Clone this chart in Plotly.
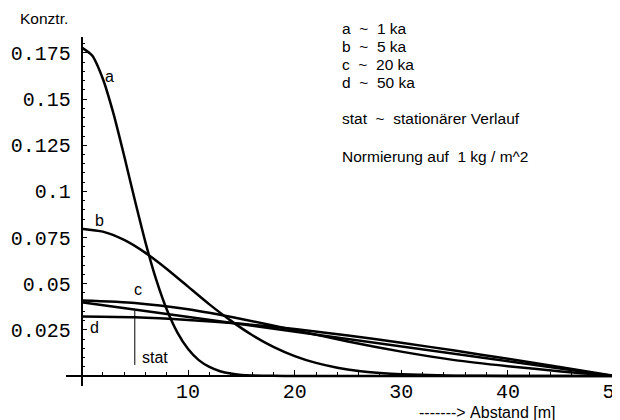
import plotly.graph_objects as go

# ---- data ----
x_a = [0, 1, 2, 3, 4, 5, 6, 7, 8, 9, 10, 11, 12, 13, 14, 15, 16, 18, 20, 25, 30, 35, 40, 45, 50]
y_a = [0.178, 0.1736, 0.161, 0.1421, 0.1193, 0.0953, 0.0724, 0.0523, 0.0360, 0.0235, 0.0146,
       0.0086, 0.0049, 0.0026, 0.0013, 0.0006, 0.0003, 0.0001, 0.0, 0.0, 0.0, 0.0, 0.0, 0.0, 0.0]

x_b = [0, 2, 4, 6, 8, 10, 12, 14, 16, 18, 20, 22, 24, 26, 28, 30, 35, 40, 45, 50]
y_b = [0.0798, 0.0782, 0.0737, 0.0667, 0.0580, 0.0484, 0.0388, 0.0300, 0.0222, 0.0158,
       0.0108, 0.0071, 0.0045, 0.0027, 0.0016, 0.0009, 0.0002, 0.0, 0.0, 0.0]

x_c = [0, 5, 10, 15, 20, 25, 30, 35, 40, 45, 50]
y_c = [0.0409, 0.0396, 0.0361, 0.0309, 0.0248, 0.0187, 0.0132, 0.0086, 0.0053, 0.0025, 0.0]

x_d = [0, 5, 10, 15, 20, 25, 30, 35, 40, 45, 50]
y_d = [0.0322, 0.0318, 0.0304, 0.0283, 0.0254, 0.0220, 0.0180, 0.0138, 0.0093, 0.0047, 0.0]

x_stat = [0, 50]
y_stat = [0.040, 0.0]

x_tickvals = [10, 20, 30, 40, 50]
x_ticktext = ["10", "20", "30", "40", "50"]
y_tickvals = [0.025, 0.05, 0.075, 0.1, 0.125, 0.15, 0.175]
y_ticktext = ["0.025", "0.05", "0.075", "0.1", "0.125", "0.15", "0.175"]

legend_lines = ["a  ~  1 ka", "b  ~  5 ka", "c  ~  20 ka", "d  ~  50 ka"]
stat_note = "stat  ~  stationärer Verlauf"
norm_note = "Normierung auf  1 kg / m^2"

# ---- figure geometry (page pixels) ----
OX, OY = 5, 6                 # where the figure's top-left lands on the page
W, H = 612, 412
PLOT_L, PLOT_R, PLOT_T, PLOT_B = 63, OX + W, 35, 384
X0_PX, X_SCALE = 78.5, 10.66          # page px of x=0, px per unit
Y0_PX, Y_SCALE = 374.0, 1846.0        # page px of y=0, px per unit

X_RANGE = [(PLOT_L - X0_PX) / X_SCALE, (PLOT_R - X0_PX) / X_SCALE]
Y_RANGE = [(Y0_PX - PLOT_B) / Y_SCALE, (Y0_PX - PLOT_T) / Y_SCALE]
ML, MR, MT, MB = PLOT_L - OX, OX + W - PLOT_R, PLOT_T - OY, OY + H - PLOT_B
PW, PH = W - ML - MR, H - MT - MB

def px_to_paper(px, py):
    fx, fy = px - OX, py - OY
    return (fx - ML) / PW, (H - MB - fy) / PH

fig = go.Figure()
for xs, ys in [(x_a, y_a), (x_b, y_b), (x_c, y_c), (x_d, y_d), (x_stat, y_stat)]:
    fig.add_trace(go.Scatter(x=xs, y=ys, mode="lines",
                             line=dict(color="black", width=2.5, shape="spline", smoothing=0.6),
                             showlegend=False, hoverinfo="skip", cliponaxis=False))

# pointer for 'stat'
fig.add_shape(type="line", x0=5, x1=5, y0=0.0355, y1=0.006,
              line=dict(color="black", width=1))

mono = dict(family="Liberation Mono, Courier New, monospace", size=20, color="black")
sans = "Liberation Sans, Arial, Helvetica, sans-serif"

fig.update_layout(
    width=W, height=H,
    margin=dict(l=ML, r=MR, t=MT, b=MB, autoexpand=False),
    paper_bgcolor="white", plot_bgcolor="white",
    xaxis=dict(range=X_RANGE, anchor="free", position=(0 - Y_RANGE[0]) / (Y_RANGE[1] - Y_RANGE[0]),
               automargin=False,
               showgrid=False, zeroline=False, showline=True, linecolor="black", linewidth=1.5,
               tickmode="array", tickvals=x_tickvals, ticktext=x_ticktext,
               ticks="inside", ticklen=5, tickwidth=1, tickcolor="black",
               tickfont=mono, ticklabeloverflow="allow", ticklabelstandoff=-3,
               minor=dict(tickmode="linear", tick0=0, dtick=2, ticks="inside", ticklen=3,
                          tickwidth=1, tickcolor="black", showgrid=False)),
    yaxis=dict(range=Y_RANGE, anchor="free", position=(0 - X_RANGE[0]) / (X_RANGE[1] - X_RANGE[0]),
               automargin=False,
               showgrid=False, zeroline=False, showline=True, linecolor="black", linewidth=1.5,
               tickmode="array", tickvals=y_tickvals, ticktext=y_ticktext,
               ticks="inside", ticklen=5, tickwidth=1, tickcolor="black",
               tickfont=mono, ticklabelstandoff=6,
               minor=dict(tickmode="linear", tick0=0, dtick=0.005, ticks="inside", ticklen=3,
                          tickwidth=1, tickcolor="black", showgrid=False)),
)

def note(text, px, py, size=15.5, xanchor="left"):
    x, y = px_to_paper(px, py)
    fig.add_annotation(text=text.replace(" ", "\u00a0"), x=x, y=y, xref="paper", yref="paper",
                       xanchor=xanchor, yanchor="middle", showarrow=False,
                       font=dict(family=sans, size=size, color="black"))

note("Konztr.", 15, 16)
for i, t in enumerate(legend_lines):
    note(t, 337, 26 + i * 18.3)
note(stat_note, 337, 117)
note(norm_note, 337, 154)
note("-------> Abstand [m]", 414, 410, size=16)

# curve labels (data coordinates)
curve_labels = [("a", 2.6, 0.162), ("b", 1.7, 0.0845), ("c", 5.3, 0.047), ("d", 1.2, 0.0262),
                ("stat", 6.9, 0.0098)]
for t, xv, yv in curve_labels:
    fig.add_annotation(text=t, x=xv, y=yv, showarrow=False, xanchor="center", yanchor="middle",
                       font=dict(family=sans, size=16, color="black"))

fig.write_html("out.html")
